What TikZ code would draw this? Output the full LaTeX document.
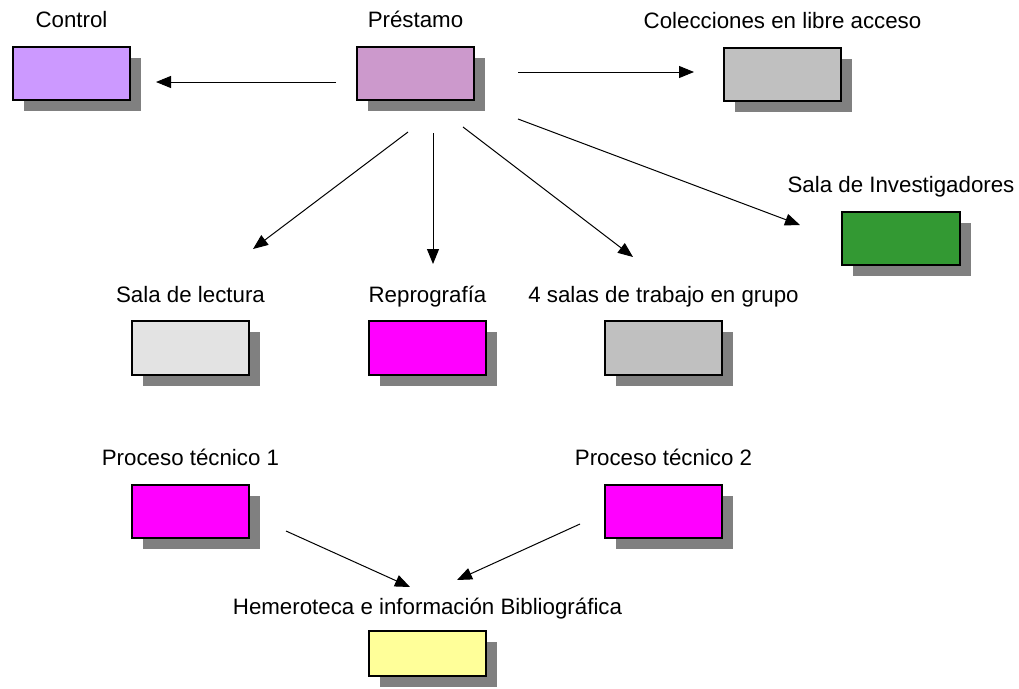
\documentclass[tikz,border=0pt]{standalone}
\usepackage{fontspec}
\setmainfont{Liberation Sans}
\usetikzlibrary{shapes,arrows.meta,shadows,positioning}
\definecolor{sombra}{HTML}{808080}
\definecolor{lila}{HTML}{CC99FF}
\definecolor{malva}{HTML}{CC99CC}
\definecolor{gris}{HTML}{C0C0C0}
\definecolor{grisclaro}{HTML}{E3E3E3}
\definecolor{verde}{HTML}{339933}
\definecolor{magenta}{HTML}{FF00FF}
\definecolor{amarillo}{HTML}{FFFF99}
\tikzstyle{box} = [rectangle, minimum width=117.5pt, minimum height=53.5pt, draw=black, line width=2pt, general shadow={fill=sombra, shadow xshift=11pt, shadow yshift=-11pt}]
\tikzstyle{etiqueta} = [font=\fontsize{22.3}{26}\selectfont, inner sep=0pt]
\tikzstyle{arrow} = [line width=1pt, -{Triangle[length=15pt,width=12pt]}]

\begin{document}
\begin{tikzpicture}
        \useasboundingbox (0,0) rectangle (1019pt,-688pt);

        \node (C) [box, xshift=71.5pt, yshift=-73.5pt, fill=lila] {};
        \node (P) [box, xshift=415.5pt, yshift=-73.5pt, fill=malva] {};
        \node (CLA) [box, xshift=782.5pt, yshift=-74.5pt, fill=gris] {};
        \node (SI) [box, xshift=901pt, yshift=-238.5pt, fill=verde] {};

        \node (SL) [box, xshift=190.5pt, yshift=-348pt, fill=grisclaro] {};
        \node (R) [box, xshift=427.5pt, yshift=-348pt, fill=magenta] {};
        \node (ST) [box, xshift=663.5pt, yshift=-348pt, fill=gris] {};

        \node (PT1) [box, xshift=190.5pt, yshift=-511.5pt, fill=magenta] {};
        \node (PT2) [box, xshift=663.5pt, yshift=-511.5pt, fill=magenta] {};
        \node (HIB) [box, xshift=427.5pt, yshift=-653.5pt, minimum height=45.5pt, fill=amarillo] {};

        \node (tC) [etiqueta, above=18pt of C.north, anchor=base] {Control};
        \node (tP) [etiqueta, above=18pt of P.north, anchor=base] {Préstamo};
        \node (tCLA) [etiqueta, above=18pt of CLA.north, anchor=base] {Colecciones en libre acceso};
        \node (tSI) [etiqueta, above=18pt of SI.north, anchor=base] {Sala de Investigadores};
        \node (tSL) [etiqueta, above=18pt of SL.north, anchor=base] {Sala de lectura};
        \node (tR) [etiqueta, above=18pt of R.north, anchor=base] {Reprografía};
        \node (tST) [etiqueta, above=18pt of ST.north, anchor=base] {4 salas de trabajo en grupo};
        \node (tPT1) [etiqueta, above=18pt of PT1.north, anchor=base] {Proceso técnico 1};
        \node (tPT2) [etiqueta, above=18pt of PT2.north, anchor=base] {Proceso técnico 2};
        \node (tHIB) [etiqueta, above=15pt of HIB.north, anchor=base] {Hemeroteca e información Bibliográfica};

        % extremos libres de las flechas
        \coordinate (P-C) at (336pt,-82pt);
        \coordinate (C-P) at (156pt,-82pt);
        \coordinate (P-CLA) at (518pt,-72pt);
        \coordinate (CLA-P) at (694pt,-72pt);
        \coordinate (P-SL) at (408pt,-132pt);
        \coordinate (SL-P) at (253pt,-249pt);
        \coordinate (P-R) at (433pt,-133pt);
        \coordinate (R-P) at (433pt,-264pt);
        \coordinate (P-ST) at (463pt,-127pt);
        \coordinate (ST-P) at (633pt,-257pt);
        \coordinate (P-SI) at (518pt,-119pt);
        \coordinate (SI-P) at (800pt,-225pt);
        \coordinate (PT1-HIB) at (286pt,-531pt);
        \coordinate (HIB-PT1) at (410pt,-587pt);
        \coordinate (PT2-HIB) at (580pt,-524pt);
        \coordinate (HIB-PT2) at (457pt,-580pt);

        \draw[arrow] (P-C) -- (C-P);
        \draw[arrow] (P-CLA) -- (CLA-P);
        \draw[arrow] (P-SL) -- (SL-P);
        \draw[arrow] (P-R) -- (R-P);
        \draw[arrow] (P-ST) -- (ST-P);
        \draw[arrow] (P-SI) -- (SI-P);
        \draw[arrow] (PT1-HIB) -- (HIB-PT1);
        \draw[arrow] (PT2-HIB) -- (HIB-PT2);

    \end{tikzpicture}
\end{document}
